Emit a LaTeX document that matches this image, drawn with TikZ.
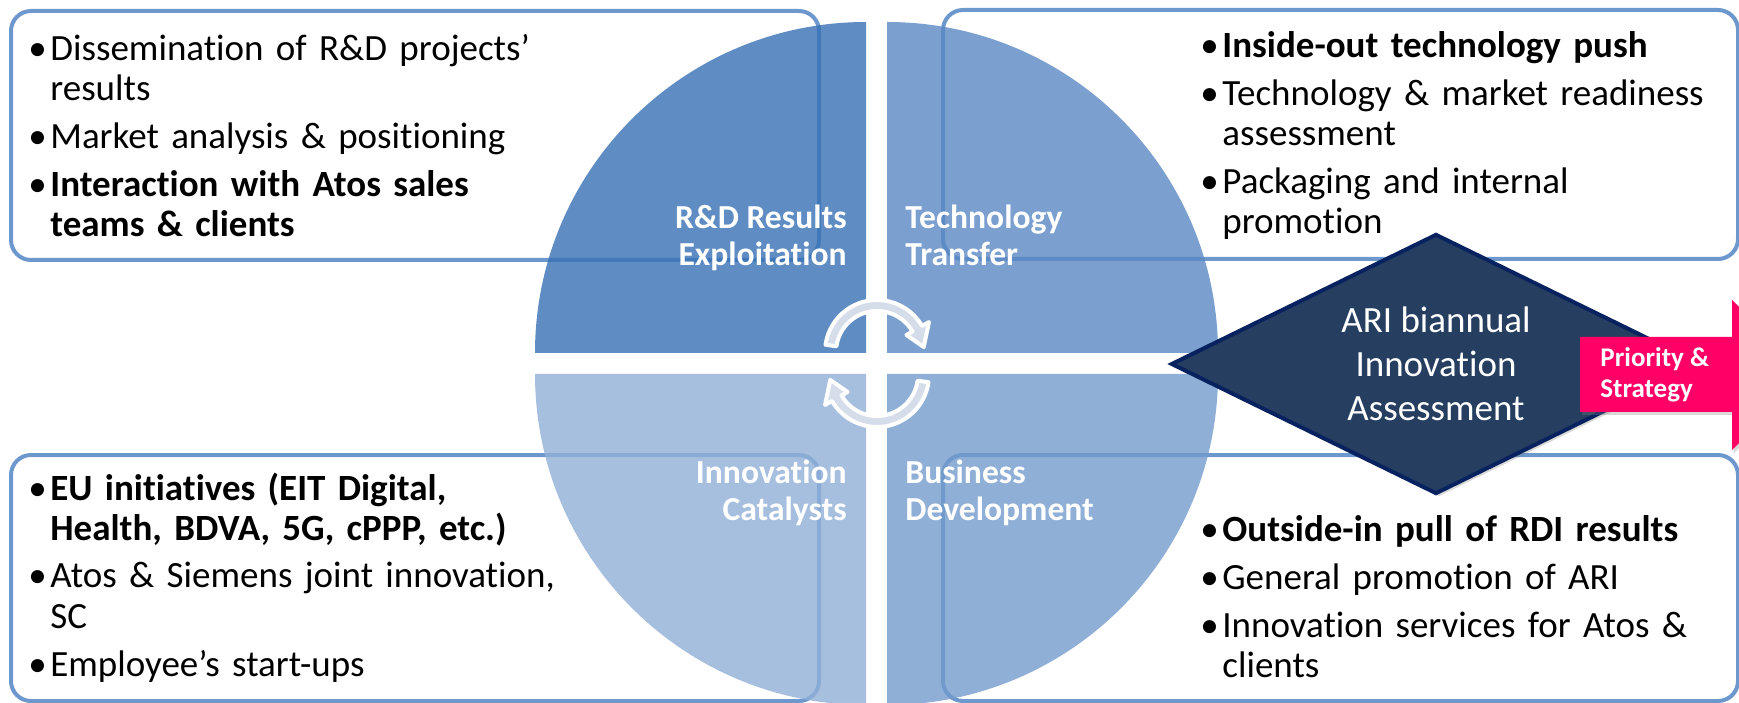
\documentclass[tikz,border=0pt]{standalone}
\usepackage{fontspec}
\setmainfont{Carlito}[Ligatures=NoCommon]
\usepackage{xcolor}
\usetikzlibrary{positioning,shapes.geometric,shadows}

\definecolor{boxblue}{RGB}{108,152,206}
\definecolor{quadRD}{RGB}{55,113,181}
\definecolor{quadTT}{RGB}{90,136,195}
\definecolor{quadIC}{RGB}{146,176,215}
\definecolor{quadBD}{RGB}{115,155,204}
\definecolor{arifill}{RGB}{38,63,96}
\definecolor{ariline}{RGB}{8,34,96}
\definecolor{prioritypink}{RGB}{255,0,102}
\definecolor{cyclegray}{RGB}{213,220,234}

\newcommand\bulitem[1]{\parskip=4pt\hangindent=11pt\hangafter=1\noindent\hbox to 11pt{\textbullet\hss}#1\par}

\begin{document}
\begin{tikzpicture}[x=0.5pt,y=0.5pt]
      \tikzstyle{infobox} = [draw=boxblue, line width=2pt, fill=white,
      rounded corners=10pt, anchor=north west, inner sep=0pt]
      \tikzstyle{bullets} = [anchor=base west, inner sep=0pt, align=left,
      text width=380pt, font=\fontsize{18.5}{20}\selectfont]
      \tikzstyle{quadlabel} = [text=white, inner sep=0pt,
      font=\bfseries\fontsize{16.8}{18.5}\selectfont]
      \tikzstyle{cyclearrow} = [fill=cyclegray, draw=white, line width=2pt,
      line join=round]
      \clip (0,0) rectangle (1739,702);
      \fill[white] (0,0) rectangle (1739,702);
      % BOXES
      \node[infobox, minimum width=404pt, minimum height=124.5pt] (rdbox) at (9,693) {};
      \node[infobox, minimum width=397.5pt, minimum height=124.5pt] (ttbox) at (941,694) {};
      \node[infobox, minimum width=404pt, minimum height=123pt] (icbox) at (9,249) {};
      \node[infobox, minimum width=397.5pt, minimum height=123pt] (bdbox) at (941,249) {};
      % QUADRANTS
      \fill[quadRD, fill opacity=0.8] (866,349) -- ++(-331,0)
      arc[start angle=180, end angle=90, radius=331] -- cycle;
      \fill[quadTT, fill opacity=0.8] (887,349) -- ++(0,331)
      arc[start angle=90, end angle=0, radius=331] -- cycle;
      \fill[quadIC, fill opacity=0.8] (866,328) -- ++(-331,0)
      arc[start angle=180, end angle=270, radius=331] -- cycle;
      \fill[quadBD, fill opacity=0.8] (887,328) -- ++(331,0)
      arc[start angle=0, end angle=-90, radius=331] -- cycle;
      \node[quadlabel, align=right, anchor=base east] (rdlabel) at (847,436)
      {R\&D Results\\Exploitation};
      \node[quadlabel, align=left, anchor=base west] (ttlabel) at (905,436)
      {Technology\\Transfer};
      \node[quadlabel, align=right, anchor=base east] (iclabel) at (847,182)
      {Innovation\\Catalysts};
      \node[quadlabel, align=left, anchor=base west] (bdlabel) at (905,182)
      {Business\\Development};
      % CYCLE
      \draw[cyclearrow, shift={(877,350)}] (172:52)
      arc[start angle=172, end angle=30, radius=52] -- (30:60) -- (6:47)
      -- (30:34) -- (30:41) arc[start angle=30, end angle=172, radius=41] -- cycle;
      \draw[cyclearrow, shift={(877,327)}] (352:52)
      arc[start angle=352, end angle=210, radius=52] -- (210:60) -- (186:47)
      -- (210:34) -- (210:41) arc[start angle=210, end angle=352, radius=41] -- cycle;
      % BULLETS
      \node[bullets] (rdtext) at (28,641) {%
        \bulitem{Dissemination of R\&D projects’\newline results}%
        \bulitem{Market analysis \& positioning}%
        \bulitem{\textbf{Interaction with Atos sales\newline teams \& clients}}};
      \node[bullets] (tttext) at (1200,644) {%
        \bulitem{\textbf{Inside-out technology push}}%
        \bulitem{Technology \& market readiness\newline assessment}%
        \bulitem{Packaging and internal\newline promotion}};
      \node[bullets] (ictext) at (28,202) {%
        \bulitem{\textbf{EU initiatives (EIT Digital,\newline Health, BDVA, 5G, cPPP, etc.)}}%
        \bulitem{Atos \& Siemens joint innovation,\newline SC}%
        \bulitem{Employee’s start-ups}};
      \node[bullets] (bdtext) at (1200,161) {%
        \bulitem{\textbf{Outside-in pull of RDI results}}%
        \bulitem{General promotion of ARI}%
        \bulitem{Innovation services for Atos \&\newline clients}};
      % ASSESSMENT
      \node[diamond, aspect=2, draw=ariline, line width=2pt, fill=arifill,
      minimum width=265pt, minimum height=130pt, inner sep=0pt, text=white,
      align=center, font=\fontsize{18.5}{22}\selectfont,
      drop shadow={shadow xshift=1.5pt, shadow yshift=-1.5pt, opacity=0.3}]
      (ari) at (1436,338) {ARI biannual\\Innovation\\Assessment};
      \fill[prioritypink, drop shadow={shadow xshift=1pt, shadow yshift=-1.5pt,
      opacity=0.3}] (1580,365) -- (1732,365) -- (1732,402) -- (1808,327.5)
      -- (1732,252) -- (1732,290) -- (1580,290) -- cycle;
      \node[text=white, inner sep=0pt, anchor=base west, align=left,
      font=\bfseries\fontsize{13.5}{15.5}\selectfont] (priority) at (1600,304)
      {Priority \&\\Strategy};
\end{tikzpicture}
\end{document}
